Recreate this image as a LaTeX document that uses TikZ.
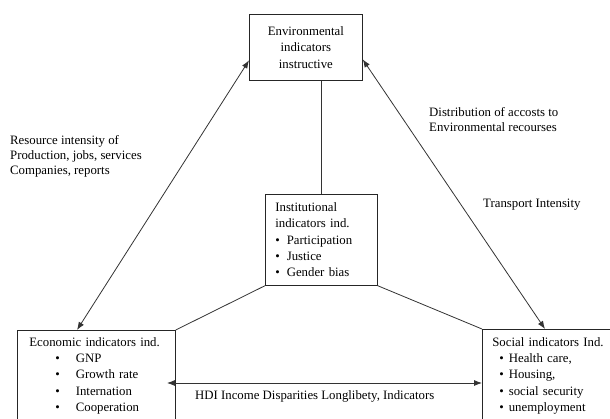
\documentclass[tikz,border=0pt]{standalone}
\usepackage{fontspec}
\setmainfont{Liberation Serif}
\usetikzlibrary{arrows.meta, positioning, calc}

\newcommand{\bul}[3]{\hspace*{#1}\textbullet\hspace*{#2}#3}

\begin{document}
\begin{tikzpicture}[x=1pt, y=-1pt,
  box/.style={draw=black!85, line width=0.7pt, inner ysep=0pt, align=left, font=\fontsize{12.8}{16.3}\selectfont},
  lbl/.style={inner sep=0pt, align=left, font=\fontsize{12.8}{15}\selectfont},
  link/.style={draw=black!80, line width=0.8pt},
  twoway/.style={link, {Latex[length=8pt,width=6pt]}-{Latex[length=8pt,width=6pt]}}]
  \useasboundingbox (0,0) rectangle (610,418);
  \clip (0,0) rectangle (610,418);

  % Environmental box on top
  \node[box, align=center, anchor=north west, text width=93pt, inner xsep=10pt, minimum height=66pt] (env) at (249,14) {Environmental\\indicators\\instructive};

  % Institutional box in the middle
  \node[box, anchor=north west, text width=92pt, inner xsep=10pt, minimum height=91pt] (inst) at (265,194)
    {Institutional\\indicators ind.\\\bul{0pt}{7pt}{Participation}\\\bul{0pt}{7pt}{Justice}\\\bul{0pt}{7pt}{Gender bias}};

  % Economic and social boxes (cut off at the bottom)
  \node[box, anchor=north west, text width=134pt, inner xsep=12pt, minimum height=91pt] (econ) at (17,330)
    {Economic indicators ind.\\\bul{26pt}{16pt}{GNP}\\\bul{26pt}{16pt}{Growth rate}\\\bul{26pt}{16pt}{Internation}\\\bul{26pt}{16pt}{Cooperation}};
  \node[box, anchor=north west, text width=170pt, inner xsep=10pt, minimum height=93pt] (social) at (482,329)
    {Social indicators Ind.\\\bul{7pt}{5pt}{Health care,}\\\bul{7pt}{5pt}{Housing,}\\\bul{7pt}{5pt}{social security}\\\bul{7pt}{5pt}{unemployment}};

  % Side labels
  \node[lbl, anchor=north west] (res) at (10,135) {Resource intensity of\\Production, jobs, services\\Companies, reports};
  \node[lbl, anchor=north west] (dist) at (429,107) {Distribution of accosts to\\Environmental recourses};
  \node[lbl, anchor=west] (trans) at (483,204.5) {Transport Intensity};
  \node[lbl, anchor=west] (hdi) at (195,396) {HDI Income Disparities Longlibety, Indicators};

  % Links
  \draw[link] (inst.north) -- (inst.north |- env.south);
  \draw[link] (inst.south west) -- (econ.north east);
  \draw[link] (inst.south east) -- (social.north west);
  \draw[twoway] ([yshift=-13pt]env.west) -- ([xshift=60pt]econ.north west);
  \draw[twoway] ([yshift=-12pt]env.east) -- ([xshift=63pt]social.north west);
  \coordinate (hleft) at (167,383);
  \draw[twoway] (hleft) -- (hleft -| social.west);
\end{tikzpicture}
\end{document}
